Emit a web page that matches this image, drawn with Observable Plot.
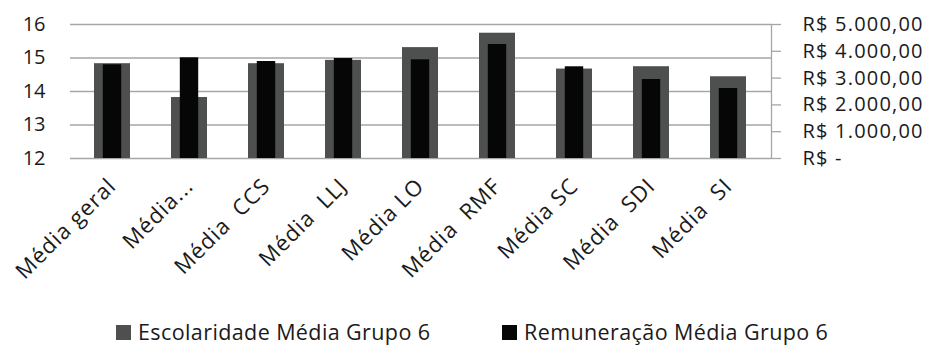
<!DOCTYPE html>
<html><head><meta charset="utf-8">
<script src="https://cdn.jsdelivr.net/npm/d3@7"></script>
<script src="https://cdn.jsdelivr.net/npm/@observablehq/plot@0.6"></script>
<style>
body{margin:0;background:#fff;font-family:"Open Sans",sans-serif;color:#1a1a1a;overflow:hidden;}
#chart svg{display:block;}
#legend{position:relative;height:37px;font-size:21.5px;letter-spacing:0.4px;}
.item{position:absolute;top:8px;display:flex;align-items:center;height:24px;line-height:24px;}
.sw{width:15px;height:15px;margin-right:7px;}
</style></head><body>
<div id="chart"></div>
<div id="legend"></div>
<script>
const categories = ["Média geral","Média...","Média\u00a0\u00a0CCS","Média\u00a0\u00a0LLJ","Média LO","Média\u00a0\u00a0RMF","Média SC","Média\u00a0\u00a0SDI","Média\u00a0\u00a0SI"];
const escolaridade = [14.83,13.82,14.83,14.93,15.31,15.74,14.67,14.74,14.44];
const remuneracao = [3496,3757,3619,3731,3683,4254,3422,2948,2612];
const leftTicks = [12,13,14,15,16];
const rightTicks = [0,1000,2000,3000,4000,5000];
const seriesNames = ["Escolaridade Média Grupo 6","Remuneração Média Grupo 6"];
const seriesColors = ["#4e504f","#060606"];

const leftMin = 12, leftMax = 16, rightMax = 5000;
const toLeft = v => leftMin + v / rightMax * (leftMax - leftMin);
const fromLeft = d => (d - leftMin) / (leftMax - leftMin) * rightMax;

const loc = d3.formatLocale({decimal:",", thousands:".", grouping:[3], currency:["R$ ",""]});
const money = loc.format(",.2f");
const fmtMoney = v => Math.abs(v) < 0.5 ? "R$ -" : "R$ " + money(v);

const data = categories.map((c,i)=>({cat:c, esc:escolaridade[i], rem:remuneracao[i]}));

const chart = Plot.plot({
  width: 934, height: 312,
  marginLeft: 70, marginRight: 163, marginTop: 24, marginBottom: 154,
  style: {fontFamily: '"Open Sans", sans-serif', fontSize: "19px", color: "#1a1a1a", background: "#fff"},
  x: {domain: categories, paddingInner: 0.53, paddingOuter: 0.265, label: null},
  y: {domain: [leftMin, leftMax], label: null},
  marks: [
    Plot.ruleY(leftTicks, {stroke: "#a6a6a6", strokeWidth: 1.3}),
    Plot.barY(data, {x: "cat", y1: leftMin, y2: "esc", fill: seriesColors[0]}),
    Plot.barY(data, {x: "cat", y1: leftMin, y2: d => toLeft(d.rem), fill: seriesColors[1], insetLeft: 8.8, insetRight: 8.8}),
    Plot.frame({anchor: "right", stroke: "#a6a6a6", strokeWidth: 1.3}),
    Plot.axisY({anchor: "left", ticks: leftTicks, tickFormat: d3.format("d"), tickSize: 0, tickPadding: 25, label: null, fontSize: 20}),
    Plot.axisY({anchor: "right", ticks: rightTicks.map(toLeft), tickFormat: d => fmtMoney(fromLeft(d)), tickSize: 9, tickPadding: 22, stroke: "#a6a6a6", strokeWidth: 1.3, label: null, fontSize: 20}),
    Plot.axisX({tickRotate: -45, tickSize: 0, tickPadding: 24, label: null, fontSize: 22})
  ]
});
document.getElementById("chart").appendChild(chart);
d3.select(chart).selectAll("g[text-anchor='start'] text").style("letter-spacing", "1.2px");
d3.select(chart).selectAll("g[aria-label='x-axis tick label'] text").style("letter-spacing", "1px");

const legend = document.getElementById("legend");
const lefts = [116, 502];
seriesNames.forEach((n,i)=>{
  const it = document.createElement("div");
  it.className = "item";
  it.style.left = lefts[i] + "px";
  const sw = document.createElement("div");
  sw.className = "sw"; sw.style.background = seriesColors[i];
  const t = document.createElement("span"); t.textContent = n;
  it.appendChild(sw); it.appendChild(t);
  legend.appendChild(it);
});
</script>
</body></html>
